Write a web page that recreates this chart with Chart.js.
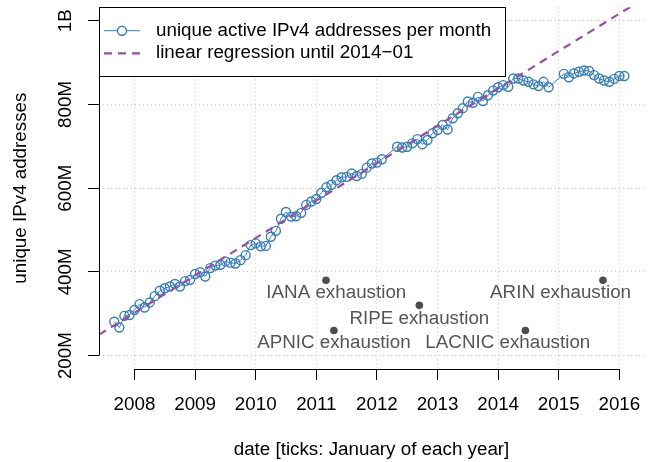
<!DOCTYPE html>
<html>
<head>
<meta charset="utf-8">
<script src="https://cdn.jsdelivr.net/npm/chart.js@4/dist/chart.umd.min.js"></script>
<style>
html,body{margin:0;padding:0;background:#fff;overflow:hidden}
#wrap{width:652px;height:462px;position:relative;background:#fff}
</style>
</head>
<body>
<div id="wrap"><canvas id="c" width="652" height="462"></canvas></div>
<script>
// ---- data (values in millions of addresses) ----
const months = [
  '2007-09','2007-10','2007-11','2007-12',
  '2008-01','2008-02','2008-03','2008-04','2008-05','2008-06','2008-07','2008-08','2008-09','2008-10','2008-11','2008-12',
  '2009-01','2009-02','2009-03','2009-04','2009-05','2009-06','2009-07','2009-08','2009-09','2009-10','2009-11','2009-12',
  '2010-01','2010-02','2010-03','2010-04','2010-05','2010-06','2010-07','2010-08','2010-09','2010-10','2010-11','2010-12',
  '2011-01','2011-02','2011-03','2011-04','2011-05','2011-06','2011-07','2011-08','2011-09','2011-10','2011-11','2011-12',
  '2012-01','2012-02','2012-05','2012-06','2012-07','2012-08','2012-09','2012-10','2012-11','2012-12',
  '2013-01','2013-02','2013-03','2013-04','2013-05','2013-06','2013-07','2013-08','2013-09','2013-10','2013-11','2013-12',
  '2014-01','2014-02','2014-03','2014-04','2014-05','2014-06','2014-07','2014-08','2014-09','2014-10','2014-11',
  '2015-02','2015-03','2015-04','2015-05','2015-06','2015-07','2015-08','2015-09','2015-10','2015-11','2015-12',
  '2016-01','2016-02'
];
const uniqueIPs = [
  281, 267, 295, 297,
  309, 323, 315, 327, 342, 355, 361, 365, 371, 365, 378, 381,
  395, 399, 389, 409, 415, 417, 425, 422, 420, 428, 440, 464,
  468, 461, 462, 484, 498, 527, 543, 532, 533, 541, 560, 568,
  574, 589, 602, 608, 619, 626, 627, 635, 629, 634, 649, 659,
  661, 669, 699, 697, 699, 707, 717, 705, 715, 731,
  739, 751, 740, 767, 779, 791, 807, 804, 818, 808, 822, 833,
  841, 846, 842, 862, 862, 857, 854, 848, 844, 854, 841,
  873, 865, 874, 878, 881, 880, 870, 862, 857, 854, 861,
  868, 868
];
// regression line endpoints (at the plot edges)
const regYears = [2007.414, 2016.407];
const regValues = [250, 1053];

// exhaustion events
const eventNames  = ['IANA exhaustion', 'APNIC exhaustion', 'RIPE exhaustion', 'LACNIC exhaustion', 'ARIN exhaustion'];
const eventYears  = [2011.16, 2011.29, 2012.70, 2014.45, 2015.73];
const eventValues = [380, 260, 320, 260, 380];
const labelYears  = [2011.33, 2011.29, 2012.70, 2014.16, 2015.03];
const labelValues = [350, 230, 289, 230, 350];

// axes
const xTickYears = [2008, 2009, 2010, 2011, 2012, 2013, 2014, 2015, 2016];
const yTickValues = [200, 400, 600, 800, 1000];
const yTickLabels = ['200M', '400M', '600M', '800M', '1B'];

const seriesLabel = 'unique active IPv4 addresses per month';
const regLabel = 'linear regression until 2014\u221201';
const xTitle = 'date [ticks: January of each year]';
const yTitle = 'unique IPv4 addresses';

// ---- styles ----
const BLUE = '#377eb8', PURPLE = '#984ea3', GRID = '#c4c4c4', EVENT = '#4d4d4d';
const FONT = '"Liberation Sans", Arial, Helvetica, sans-serif';
const FS = 18.8;
Chart.defaults.font.family = FONT;
Chart.defaults.font.size = FS;
Chart.defaults.color = '#000';

function toYear(s) { const [yy, mm] = s.split('-').map(Number); return yy + (mm - 1) / 12; }
function align(p) { return Math.round(p - 0.5) + 0.5; }

const overlay = {
  id: 'overlay',
  afterDatasetsDraw(chart) {
    const {ctx, chartArea: ca, scales: {x, y}} = chart;
    ctx.save();
    // R-style detached axis lines
    ctx.strokeStyle = '#000'; ctx.lineWidth = 1; ctx.setLineDash([]);
    ctx.beginPath();
    const ax = align(ca.left);
    ctx.moveTo(ax, align(y.getPixelForValue(yTickValues[0])));
    ctx.lineTo(ax, align(y.getPixelForValue(yTickValues[yTickValues.length - 1])));
    const ay = align(ca.bottom);
    ctx.moveTo(align(x.getPixelForValue(xTickYears[0])), ay);
    ctx.lineTo(align(x.getPixelForValue(xTickYears[xTickYears.length - 1])), ay);
    ctx.stroke();

    // event labels
    ctx.fillStyle = '#555';
    ctx.font = FS + 'px ' + FONT;
    ctx.textAlign = 'center'; ctx.textBaseline = 'middle';
    eventNames.forEach((n, i) => {
      ctx.fillText(n, x.getPixelForValue(labelYears[i]), y.getPixelForValue(labelValues[i]));
    });

    // legend box
    const bx = align(ca.left), by = align(ca.top), bw = 406, bh = 69;
    ctx.fillStyle = '#fff';
    ctx.fillRect(bx, by, bw, bh);
    ctx.strokeStyle = '#000'; ctx.lineWidth = 1;
    ctx.strokeRect(bx, by, bw, bh);
    const ds = chart.data.datasets;
    const r1 = 30.7, r2 = 53.3, sx0 = 104, sx1 = 140, tx = 156;
    // row 1
    ctx.strokeStyle = ds[0].borderColor; ctx.lineWidth = ds[0].borderWidth;
    ctx.beginPath(); ctx.moveTo(sx0, r1); ctx.lineTo(sx1, r1); ctx.stroke();
    ctx.fillStyle = '#fff'; ctx.lineWidth = ds[0].pointBorderWidth;
    ctx.beginPath(); ctx.arc((sx0 + sx1) / 2, r1, ds[0].pointRadius, 0, Math.PI * 2); ctx.fill(); ctx.stroke();
    // row 2
    ctx.strokeStyle = ds[1].borderColor; ctx.lineWidth = ds[1].borderWidth;
    ctx.setLineDash(ds[1].borderDash);
    ctx.beginPath(); ctx.moveTo(sx0, r2); ctx.lineTo(sx1, r2); ctx.stroke();
    ctx.setLineDash([]);
    ctx.fillStyle = '#000'; ctx.textAlign = 'left'; ctx.textBaseline = 'middle';
    ctx.font = FS + 'px ' + FONT;
    ctx.fillText(ds[0].label, tx, r1);
    ctx.fillText(ds[1].label, tx, r2);
    ctx.restore();
  }
};

new Chart(document.getElementById('c'), {
  type: 'line',
  data: {
    datasets: [
      {
        label: seriesLabel,
        data: months.map((m, i) => ({x: toYear(m), y: uniqueIPs[i]})),
        borderColor: BLUE, borderWidth: 1,
        pointRadius: 4.5, pointBorderWidth: 1.4,
        pointBorderColor: BLUE, pointBackgroundColor: 'rgba(0,0,0,0)',
        fill: false, tension: 0, order: 1
      },
      {
        label: regLabel,
        data: regYears.map((v, i) => ({x: v, y: regValues[i]})),
        borderColor: PURPLE, borderWidth: 2.2, borderDash: [8, 6],
        pointRadius: 0, fill: false, order: 0
      },
      {
        label: 'events',
        data: eventYears.map((v, i) => ({x: v, y: eventValues[i]})),
        showLine: false, pointRadius: 3.8, pointBorderWidth: 0,
        pointBackgroundColor: EVENT, pointBorderColor: EVENT, order: 2
      }
    ]
  },
  options: {
    responsive: false, animation: false, events: [],
    layout: {padding: {top: 7.3, right: 8, bottom: 0, left: 0}},
    plugins: {legend: {display: false}, tooltip: {enabled: false}},
    scales: {
      x: {
        type: 'linear', min: 2007.414, max: 2016.407,
        afterBuildTicks: s => { s.ticks = xTickYears.map(v => ({value: v})); },
        afterFit: s => { s.height = 93; s.paddingLeft = 0; s.paddingRight = 0; },
        ticks: {autoSkip: false, maxRotation: 0, minRotation: 0, padding: 13.7, color: '#000',
                callback: v => String(v)},
        grid: {color: GRID, lineWidth: 1, tickLength: 11, tickColor: '#000', tickWidth: 1, tickBorderDash: []},
        border: {display: false, dash: [1, 3]},
        title: {display: true, text: xTitle, color: '#000', padding: {top: 0, bottom: 0.7}}
      },
      y: {
        type: 'linear', min: 168, max: 1032,
        afterBuildTicks: s => { s.ticks = yTickValues.map(v => ({value: v})); },
        afterFit: s => { s.width = 99; s.paddingTop = 0; s.paddingBottom = 0; },
        ticks: {autoSkip: false, minRotation: 90, maxRotation: 90, crossAlign: 'center', padding: -1, color: '#000',
                callback: (v, i) => yTickLabels[i]},
        grid: {color: GRID, lineWidth: 1, tickLength: 11, tickColor: '#000', tickWidth: 1, tickBorderDash: []},
        border: {display: false, dash: [1, 3]},
        title: {display: true, text: yTitle, color: '#000', padding: {top: 9.7, bottom: 0}}
      }
    }
  },
  plugins: [overlay]
});
</script>
</body>
</html>
